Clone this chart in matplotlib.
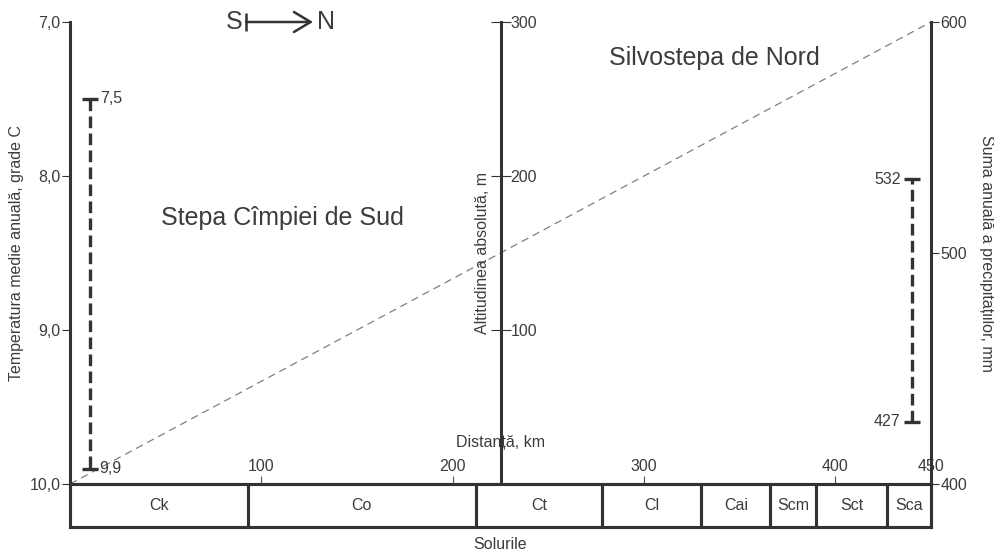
import matplotlib.pyplot as plt
from matplotlib.patches import Rectangle
import matplotlib.transforms as mtransforms

plt.rcParams['font.family'] = ['Liberation Sans', 'DejaVu Sans']

# Data
soil_names = ["Ck", "Co", "Ct", "Cl", "Cai", "Scm", "Sct", "Sca"]
soil_edges = [0, 93, 212, 278, 330, 366, 390, 427, 451]
dist_ticks = [100, 200, 300, 400, 450]
temp_ticks = [7.0, 8.0, 9.0, 10.0]
temp_labels = ["7,0", "8,0", "9,0", "10,0"]
temp_range = [7.5, 9.9]
temp_range_lbl = ["7,5", "9,9"]
temp_pos_km = 10.5
alt_ticks = [100, 200, 300]
alt_axis_km = 225
prec_ticks = [400, 500, 600]
prec_range = [427, 532]
prec_pos_km = 440

DARK = "#333333"
TXT = "#3c3c3c"
FS = 11.5

fig = plt.figure(figsize=(9.95, 5.54), dpi=100)
ax = fig.add_axes([0.0704, 0.1264, 0.8653, 0.8339])
ax.set_xlim(0, 450)
ax.set_ylim(10.0, 7.0)
ax.spines["top"].set_visible(False)
ax.spines["bottom"].set_visible(False)
ax.spines["right"].set_visible(False)
ax.spines["left"].set_linewidth(2.2)
ax.spines["left"].set_color(DARK)

ax.set_yticks(temp_ticks)
ax.set_yticklabels(temp_labels)
ax.tick_params(axis="y", length=6, width=0.8, color=DARK, labelsize=FS,
               labelcolor=TXT, pad=1)
ax.set_xticks(dist_ticks)
ax.tick_params(axis="x", direction="in", length=6, width=0.8, color="#555555",
               labelbottom=False)
xtr = mtransforms.blended_transform_factory(ax.transData, ax.transAxes)
for d in dist_ticks:
    ax.text(d, 0.022, str(d), transform=xtr, ha="center", va="bottom",
            fontsize=FS, color=TXT)
ax.set_ylabel("Temperatura medie anuală, grade C", fontsize=FS, color=TXT,
              labelpad=4)

# right axis: precipitation
ax2 = ax.twinx()
ax2.set_ylim(400, 600)
for s in ["top", "left", "bottom"]:
    ax2.spines[s].set_visible(False)
ax2.spines["right"].set_linewidth(2.2)
ax2.spines["right"].set_color(DARK)
ax2.set_yticks(prec_ticks)
ax2.tick_params(axis="y", length=6, width=0.8, color=DARK, labelsize=FS,
                labelcolor=TXT, pad=1)
ax2.set_ylabel("Suma anuală a precipitațiilor, mm", fontsize=FS, color=TXT,
               rotation=270, va="bottom", labelpad=8)

# middle axis: altitude
ax3 = ax.twinx()
ax3.set_ylim(0, 300)
for s in ["top", "left", "bottom"]:
    ax3.spines[s].set_visible(False)
ax3.spines["right"].set_position(("data", alt_axis_km))
ax3.spines["right"].set_linewidth(2.2)
ax3.spines["right"].set_color(DARK)
ax3.set_yticks(alt_ticks)
ax3.tick_params(axis="y", direction="inout", length=14, width=0.8, color=DARK,
                labelsize=FS, labelcolor=TXT, pad=0)
ax.text(alt_axis_km - 9.5, 0.5, "Altitudinea absolută, m", transform=xtr,
        rotation=90, ha="center", va="center", fontsize=FS, color=TXT)

# diagonal line
ax.plot([0, 450], [10.0, 7.0], color="#808080", lw=0.9, dashes=(6, 4))

# temperature range bar
ax.plot([temp_pos_km, temp_pos_km], temp_range, color=DARK, lw=2.4,
        dashes=(3.5, 1.6))
ax.hlines(temp_range, temp_pos_km - 4, temp_pos_km + 4, color=DARK, lw=2.4)
for v, lbl in zip(temp_range, temp_range_lbl):
    ax.text(temp_pos_km + 5, v, lbl, ha="left", va="center", fontsize=FS,
            color=TXT)

# precipitation range bar
ax2.plot([prec_pos_km, prec_pos_km], prec_range, color=DARK, lw=2.4,
         dashes=(3.5, 1.6))
ax2.hlines(prec_range, prec_pos_km - 4, prec_pos_km + 4, color=DARK, lw=2.4)
for v in prec_range:
    ax2.text(prec_pos_km - 6, v, str(v), ha="right", va="center", fontsize=FS,
             color=TXT)

# region titles
ax.text(111, 0.576, "Stepa Cîmpiei de Sud", transform=xtr, ha="center",
        va="center", fontsize=18, color=TXT)
ax.text(337, 0.922, "Silvostepa de Nord", transform=xtr, ha="center",
        va="center", fontsize=18, color=TXT)
ax.text(alt_axis_km, 0.089, "Distanță, km", transform=xtr, ha="center",
        va="center", fontsize=FS, color=TXT)

# S -> N arrow
ax.annotate("", xy=(127, 1.0), xytext=(92, 1.0), xycoords=xtr,
            textcoords=xtr, annotation_clip=False,
            arrowprops=dict(arrowstyle="->,head_length=0.5,head_width=0.3",
                            lw=1.8, color=DARK, mutation_scale=24,
                            shrinkA=0, shrinkB=0))
ax.plot([92], [1.0], marker="|", markersize=13, mew=1.8, color=DARK,
        transform=xtr, clip_on=False)
ax.text(90, 1.0, "S", transform=xtr, ha="right", va="center", fontsize=18,
        color=TXT, clip_on=False)
ax.text(129, 1.0, "N", transform=xtr, ha="left", va="center", fontsize=18,
        color=TXT, clip_on=False)

# soils strip
axs = fig.add_axes([0.0704, 0.0487, 0.8653, 0.0776])
axs.set_xlim(0, 450)
axs.set_ylim(0, 1)
axs.set_xticks([])
axs.set_yticks([])
for s in axs.spines.values():
    s.set_linewidth(2.2)
    s.set_color(DARK)
for i, name in enumerate(soil_names):
    x0, x1 = soil_edges[i], min(soil_edges[i + 1], 450)
    axs.add_patch(Rectangle((x0, 0), x1 - x0, 1, fill=False, lw=2.2,
                            edgecolor=DARK, clip_on=False))
    axs.text((x0 + x1) / 2, 0.5, name, ha="center", va="center",
             fontsize=FS, color=TXT)
axs.set_xlabel("Solurile", fontsize=FS, color=TXT, labelpad=7)

fig.savefig("out.png", dpi=100)
